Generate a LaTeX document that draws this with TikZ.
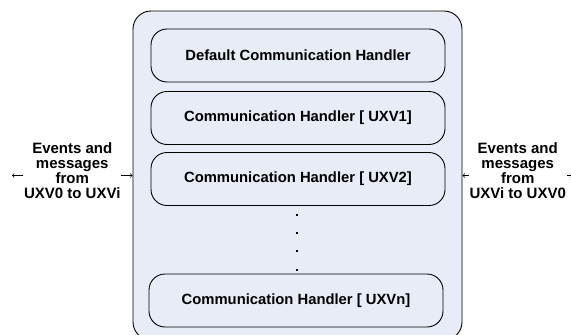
\documentclass[tikz,border=0pt]{standalone}
\usepackage{fontspec}
\setmainfont{Liberation Sans}
\definecolor{panel}{RGB}{232,236,247}
\begin{document}
\begin{tikzpicture}[x=1pt,y=-1pt, line width=0.9pt,
    handler/.style={draw, rounded corners=16pt, fill=panel, inner sep=0pt,
      minimum width=294pt, minimum height=53pt,
      font=\bfseries\fontsize{14.8}{16}\selectfont},
    side/.style={align=center, fill=white, inner sep=1pt, yshift=5pt,
      font=\bfseries\fontsize{15}{15}\selectfont}]
  \useasboundingbox (0,0) rectangle (571,335);
  % outer frame
  \node (frame) [draw, rounded corners=18pt, fill=panel, inner sep=0pt,
    minimum width=329pt, minimum height=329pt] at (297.5,175.5) {};

  \node (H0) [handler] at (298,55.5)  {Default Communication Handler};
  \node (H1) [handler] at (298,118)   {Communication Handler [ UXV1]};
  \node (H2) [handler] at (298,179)   {Communication Handler [ UXV2]};
  \node (Hn) [handler] at (296,300.5) {Communication Handler [ UXVn]};

  \foreach \y in {215,233,251,270}
    \fill (297,\y) +(-1.4,-1.4) rectangle +(1.4,1.4);

  \coordinate (L) at (12,175.5);
  \coordinate (R) at (573,175.5);

  \draw[<->, line width=0.7pt] (L) -- node[side]{Events and\\messages\\from\\UXV0 to UXVi} (frame.west);
  \draw[<->, line width=0.7pt] (frame.east) -- node[side]{Events and\\messages\\from\\UXVi to UXV0} (R);
\end{tikzpicture}
\end{document}
